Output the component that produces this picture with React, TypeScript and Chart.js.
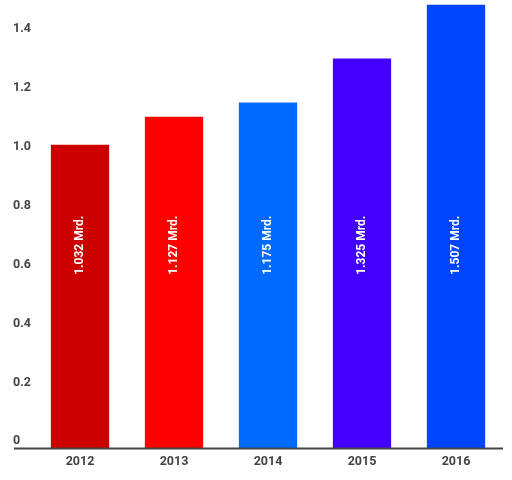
import React, { useEffect, useRef } from "react";
import { Chart, registerables } from "chart.js";

Chart.register(...registerables);

const categories = ["2012", "2013", "2014", "2015", "2016"];
const values = [1.032, 1.127, 1.175, 1.325, 1.507];
const barLabels = ["1.032 Mrd.", "1.127 Mrd.", "1.175 Mrd.", "1.325 Mrd.", "1.507 Mrd."];
const barColors = ["#cc0000", "#ff0000", "#006aff", "#4400ff", "#0044ff"];
const yTicks = [0, 0.2, 0.4, 0.6, 0.8, 1.0, 1.2, 1.4];
const yTickLabels = ["0", "0.2", "0.4", "0.6", "0.8", "1.0", "1.2", "1.4"];
const labelAnchorValue = 0.69;

const FONT = "Roboto, 'DejaVu Sans', sans-serif";
const TEXT_COLOR = "#444444";

const overlayPlugin = {
  id: "overlay",
  afterDraw(chart: any) {
    const ctx = chart.ctx;
    const y = chart.scales.y;
    const area = chart.chartArea;
    ctx.save();
    ctx.font = `bold 12.5px ${FONT}`;
    ctx.fillStyle = TEXT_COLOR;
    ctx.textAlign = "left";
    ctx.textBaseline = "alphabetic";
    yTicks.forEach((v, i) => {
      const py = y.getPixelForValue(v);
      ctx.fillText(yTickLabels[i], area.left - 20, py - 4);
    });
    const zero = y.getPixelForValue(0);
    ctx.strokeStyle = TEXT_COLOR;
    ctx.lineWidth = 2;
    ctx.beginPath();
    ctx.moveTo(area.left - 19, zero);
    ctx.lineTo(area.right, zero);
    ctx.stroke();
    const meta = chart.getDatasetMeta(0);
    const ay = y.getPixelForValue(labelAnchorValue);
    ctx.font = `bold 12px ${FONT}`;
    ctx.fillStyle = "#ffffff";
    ctx.textAlign = "center";
    ctx.textBaseline = "middle";
    meta.data.forEach((bar: any, i: number) => {
      ctx.save();
      ctx.translate(bar.x, ay);
      ctx.rotate(-Math.PI / 2);
      ctx.fillText(barLabels[i], 0, 0);
      ctx.restore();
    });
    ctx.restore();
  },
};

export default function App() {
  const ref = useRef<HTMLCanvasElement | null>(null);
  useEffect(() => {
    document.body.style.margin = "0";
    if (!ref.current) return;
    const chart = new Chart(ref.current, {
      type: "bar",
      data: {
        labels: categories,
        datasets: [
          {
            data: values,
            backgroundColor: barColors,
            borderWidth: 0,
            categoryPercentage: 1,
            barPercentage: 0.62,
          },
        ],
      },
      options: {
        responsive: false,
        animation: false,
        devicePixelRatio: 1,
        layout: { padding: { left: 33, right: 9, top: 1, bottom: 4.6 } },
        plugins: {
          legend: { display: false },
          tooltip: { enabled: false },
        },
        scales: {
          x: {
            grid: { display: false, drawTicks: false },
            border: { display: false },
            ticks: {
              padding: 6,
              color: TEXT_COLOR,
              font: { family: FONT, size: 12.5, weight: "bold" },
            },
          },
          y: {
            display: false,
            min: 0,
            max: 1.52,
          },
        },
      },
      plugins: [overlayPlugin],
    });
    return () => chart.destroy();
  }, []);
  return <canvas ref={ref} width={512} height={480} style={{ display: "block" }} />;
}
